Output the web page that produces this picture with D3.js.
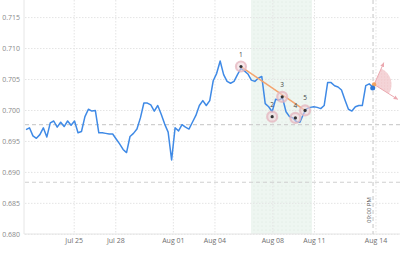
<!DOCTYPE html>
<html>
<head>
<meta charset="utf-8">
<script src="https://cdn.jsdelivr.net/npm/d3@7"></script>
<style>
  body { margin: 0; background: #fff; }
  text { font-family: "Open Sans", "DejaVu Sans", sans-serif; }
</style>
</head>
<body>
<div id="chart"></div>
<script>
// price series, one value per bar (evenly spaced)
const prices = [
  0.6969, 0.6972, 0.6959, 0.6955, 0.6961, 0.6972, 0.6957, 0.6980, 0.6983, 0.6973,
  0.6981, 0.6974, 0.6983, 0.6976, 0.6983, 0.6964, 0.6966, 0.6990, 0.7002, 0.6999,
  0.7000, 0.6964, 0.6964, 0.6963, 0.6962, 0.6962, 0.6954, 0.6946, 0.6937, 0.6932,
  0.6958, 0.6963, 0.6970, 0.6988, 0.7012, 0.7012, 0.7009, 0.6999, 0.7008, 0.6994,
  0.6978, 0.6965, 0.6920, 0.6972, 0.6967, 0.6977, 0.6973, 0.6970, 0.6981, 0.6992,
  0.7008, 0.7016, 0.7008, 0.7016, 0.7048, 0.7060, 0.7080, 0.7058, 0.7047, 0.7044,
  0.7047, 0.7058, 0.7068, 0.7064, 0.7059, 0.7049, 0.7047, 0.7052, 0.7055, 0.7011,
  0.7006, 0.6998, 0.7018, 0.7017, 0.7020, 0.6998, 0.6990, 0.6988, 0.6982, 0.6981,
  0.6994, 0.7003, 0.7005, 0.7006, 0.7005, 0.7003, 0.7008, 0.7045, 0.7045, 0.7040,
  0.7038, 0.7033, 0.7017, 0.7002, 0.6999, 0.7006, 0.7008, 0.7008, 0.7040, 0.7043,
  0.7038
];

// x axis ticks (bar index) and labels
const tickIdx = [13.9, 25.9, 42.5, 54.5, 71.2, 83.2, 100.95];
const tickLabels = ["Jul 25", "Jul 28", "Aug 01", "Aug 04", "Aug 08", "Aug 11", "Aug 14"];
const yTicks = [0.680, 0.685, 0.690, 0.695, 0.700, 0.705, 0.710, 0.715];

// horizontal dashed levels
const levels = [0.69773, 0.68841];

// pattern points 1..5
const pivotIdx = [62, 71, 73.9, 77.7, 80.5];
const pivotVal = [0.7071, 0.6990, 0.7022, 0.6988, 0.7000];
const pivotLabels = ["1", "2", "3", "4", "5"];

// highlighted range and "now" line
const band = [64.9, 82.5];
const nowIdx = 100.1;
const nowLabel = "09:00 PM";

// forecast fan: start, upper and lower targets
const fanStart = {i: 100.4, v: 0.7042};
const fanUp = {i: 103.2, v: 0.7077};
const fanDown = {i: 107.2, v: 0.7018};

const W = 400, H = 253;
const plotL = 25, plotR = 400, plotT = 0, plotB = 234;

const svg = d3.select("#chart").append("svg")
    .attr("width", W)
    .attr("height", H);

const defs = svg.append("defs");
const pat = defs.append("pattern")
    .attr("id", "dots")
    .attr("width", 4).attr("height", 4)
    .attr("patternUnits", "userSpaceOnUse");
pat.append("rect").attr("width", 4).attr("height", 4).attr("fill", "#eef6f1");
pat.append("circle").attr("cx", 2).attr("cy", 2).attr("r", 0.45).attr("fill", "#c9dfd2");

const fanPat = defs.append("pattern")
    .attr("id", "fandots")
    .attr("width", 3).attr("height", 3)
    .attr("patternUnits", "userSpaceOnUse");
fanPat.append("rect").attr("width", 3).attr("height", 3).attr("fill", "#f3cfd2");
fanPat.append("circle").attr("cx", 1.5).attr("cy", 1.5).attr("r", 0.45).attr("fill", "#e7aeb4");

defs.append("marker")
    .attr("id", "arrow")
    .attr("viewBox", "0 0 10 10")
    .attr("refX", 8).attr("refY", 5)
    .attr("markerWidth", 5).attr("markerHeight", 5)
    .attr("orient", "auto")
  .append("path")
    .attr("d", "M0,1 L9,5 L0,9 Z")
    .attr("fill", "#eba9b0");

// scales
const x = d3.scaleLinear().domain([0, prices.length - 1]).range([26, 372.7]);
const y = d3.scaleLinear().domain([0.680, 0.715]).range([234.3, 17.6]);

// band
svg.append("rect")
    .attr("x", x(band[0]))
    .attr("y", plotT)
    .attr("width", x(band[1]) - x(band[0]))
    .attr("height", plotB - plotT)
    .attr("fill", "url(#dots)");

// grid
svg.append("g").selectAll("line")
    .data(yTicks)
    .join("line")
        .attr("x1", plotL).attr("x2", plotR)
        .attr("y1", d => y(d)).attr("y2", d => y(d))
        .attr("stroke", "#e4e4e4")
        .attr("stroke-dasharray", "1.5,1.5");

svg.append("g").selectAll("line")
    .data(tickIdx)
    .join("line")
        .attr("x1", d => x(d)).attr("x2", d => x(d))
        .attr("y1", plotT).attr("y2", plotB)
        .attr("stroke", "#e4e4e4")
        .attr("stroke-dasharray", "1.5,1.5");

// axis lines
svg.append("line")
    .attr("x1", plotL - 1).attr("x2", plotL - 1)
    .attr("y1", plotT).attr("y2", plotB)
    .attr("stroke", "#e6e6e6");
svg.append("line")
    .attr("x1", plotL - 1).attr("x2", plotR)
    .attr("y1", plotB).attr("y2", plotB)
    .attr("stroke", "#e6e6e6");

// y labels
svg.append("g").selectAll("text")
    .data(yTicks)
    .join("text")
        .attr("x", 20)
        .attr("y", d => y(d))
        .attr("dy", "0.35em")
        .attr("text-anchor", "end")
        .attr("font-size", 7)
        .attr("fill", "#8a8a8a")
        .text(d => d3.format(".3f")(d));

// x labels
svg.append("g").selectAll("text")
    .data(tickIdx)
    .join("text")
        .attr("x", d => x(d))
        .attr("y", 241)
        .attr("dy", "0.35em")
        .attr("text-anchor", "middle")
        .attr("font-size", 7)
        .attr("fill", "#6f6f6f")
        .text((d, i) => tickLabels[i]);

// dashed levels
svg.append("g").selectAll("line")
    .data(levels)
    .join("line")
        .attr("x1", plotL).attr("x2", plotR)
        .attr("y1", d => y(d)).attr("y2", d => y(d))
        .attr("stroke", "#cfcfcf")
        .attr("stroke-width", 1.2)
        .attr("stroke-dasharray", "4,3");

// now line
svg.append("line")
    .attr("x1", x(nowIdx)).attr("x2", x(nowIdx))
    .attr("y1", plotT).attr("y2", plotB)
    .attr("stroke", "#cfcfcf")
    .attr("stroke-width", 1.2)
    .attr("stroke-dasharray", "4,3");
svg.append("text")
    .attr("transform", "translate(" + (x(nowIdx) - 2.5) + "," + 223 + ") rotate(-90)")
    .attr("font-size", 6)
    .attr("fill", "#555")
    .text(nowLabel);

// price line
svg.append("path")
    .datum(prices)
    .attr("d", d3.line().x((d, i) => x(i)).y(d => y(d)))
    .attr("fill", "none")
    .attr("stroke", "#3f8ae6")
    .attr("stroke-width", 1.5)
    .attr("stroke-linejoin", "round");

// trend line 1 -> 5
svg.append("line")
    .attr("x1", x(pivotIdx[0])).attr("y1", y(pivotVal[0]))
    .attr("x2", x(pivotIdx[4])).attr("y2", y(pivotVal[4]))
    .attr("stroke", "#f4a46e")
    .attr("stroke-width", 1.5);

// pivots
const piv = svg.append("g").selectAll("g")
    .data(pivotIdx)
    .join("g")
        .attr("transform", (d, i) => "translate(" + x(d) + "," + y(pivotVal[i]) + ")");
piv.append("circle")
    .attr("r", 5)
    .attr("fill", "rgba(240,215,220,0.55)")
    .attr("stroke", "rgba(228,180,190,0.75)")
    .attr("stroke-width", 2.2);
piv.append("circle")
    .attr("r", 1.6)
    .attr("fill", "#333");
piv.append("text")
    .attr("y", -10)
    .attr("text-anchor", "middle")
    .attr("font-size", 6.5)
    .attr("fill", "#444")
    .text((d, i) => pivotLabels[i]);

// forecast fan
const cx = x(fanStart.i), cy = y(fanStart.v);
const angUp = Math.atan2(x(fanUp.i) - cx, cy - y(fanUp.v));
const angDown = Math.atan2(x(fanDown.i) - cx, cy - y(fanDown.v));
svg.append("path")
    .attr("transform", "translate(" + cx + "," + cy + ")")
    .attr("d", d3.arc()({innerRadius: 0, outerRadius: 17.5, startAngle: angUp, endAngle: angDown}))
    .attr("fill", "url(#fandots)")
    .attr("opacity", 0.9);
[fanUp, fanDown].forEach(p => {
    svg.append("line")
        .attr("x1", cx).attr("y1", cy)
        .attr("x2", x(p.i)).attr("y2", y(p.v))
        .attr("stroke", "#eba9b0")
        .attr("stroke-width", 1)
        .attr("marker-end", "url(#arrow)");
});

// last point markers
svg.append("circle")
    .attr("cx", x(fanStart.i)).attr("cy", y(fanStart.v))
    .attr("r", 2.2)
    .attr("fill", "#f3a35f");
svg.append("circle")
    .attr("cx", x(prices.length - 1)).attr("cy", y(prices[prices.length - 1]) + 1)
    .attr("r", 2.5)
    .attr("fill", "#2f78d6");
</script>
</body>
</html>
